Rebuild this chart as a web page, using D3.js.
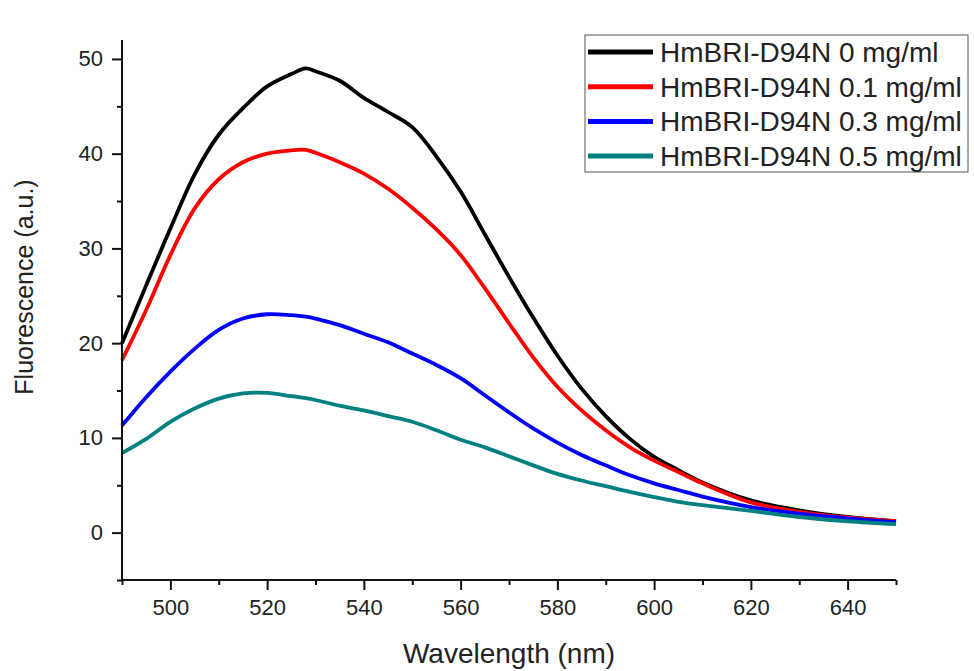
<!DOCTYPE html>
<html>
<head>
<meta charset="utf-8">
<script src="https://cdn.jsdelivr.net/npm/d3@7"></script>
<style>
  body { margin: 0; background: #fff; }
  text { font-family: Arial, "Liberation Sans", sans-serif; fill: #222; }
</style>
</head>
<body>
<div id="vis"></div>
<script>
const width = 974;
const height = 671;

// wavelength (nm) sample points
const wavelengths = [490, 495, 500, 505, 510, 515, 520, 525, 528, 530, 535, 540, 545, 550, 555, 560, 565, 570, 575, 580, 585, 590, 595, 600, 605, 610, 620, 630, 640, 650];

// fluorescence (a.u.)
const conc0 = [20.0, 26.1, 32.1, 37.8, 42.0, 44.8, 47.1, 48.4, 49.0, 48.7, 47.7, 45.9, 44.4, 42.8, 39.7, 36.0, 31.5, 27.0, 22.7, 18.7, 15.2, 12.3, 9.9, 8.0, 6.6, 5.3, 3.4, 2.35, 1.65, 1.2];
const conc01 = [18.2, 23.5, 29.3, 34.2, 37.3, 39.1, 40.0, 40.35, 40.4, 40.1, 39.1, 37.9, 36.3, 34.3, 32.0, 29.3, 25.8, 22.1, 18.5, 15.4, 12.9, 10.8, 9.0, 7.6, 6.4, 5.2, 3.2, 2.2, 1.6, 1.2];
const conc03 = [11.3, 14.3, 17.0, 19.4, 21.4, 22.6, 23.05, 22.95, 22.8, 22.6, 21.9, 21.0, 20.1, 18.9, 17.7, 16.3, 14.5, 12.7, 11.0, 9.5, 8.2, 7.1, 6.05, 5.2, 4.5, 3.8, 2.7, 2.0, 1.5, 1.1];
const conc05 = [8.4, 9.9, 11.7, 13.1, 14.15, 14.7, 14.75, 14.4, 14.2, 14.0, 13.4, 12.9, 12.3, 11.7, 10.8, 9.8, 9.0, 8.05, 7.1, 6.2, 5.5, 4.9, 4.3, 3.75, 3.25, 2.9, 2.3, 1.65, 1.2, 0.9];

const seriesNames = ['HmBRI-D94N 0 mg/ml', 'HmBRI-D94N 0.1 mg/ml', 'HmBRI-D94N 0.3 mg/ml', 'HmBRI-D94N 0.5 mg/ml'];
const seriesValues = [conc0, conc01, conc03, conc05];
const seriesColors = ['#000000', '#ff0000', '#0000ff', '#008080'];

const xMajor = [500, 520, 540, 560, 580, 600, 620, 640];
const xMinor = [490, 510, 530, 550, 570, 590, 610, 630, 650];
const yMajor = [0, 10, 20, 30, 40, 50];
const yMinor = [-5, 5, 15, 25, 35, 45];

const margin = { left: 122, right: 78, top: 40, bottom: 91 };

const x = d3.scaleLinear()
  .domain([490, 650])
  .range([margin.left, width - margin.right]);
const y = d3.scaleLinear()
  .domain([-5, 52])
  .range([height - margin.bottom, margin.top]);

const svg = d3.select('#vis').append('svg')
  .attr('width', width)
  .attr('height', height);

// curves
const line = d3.line()
  .x(d => x(d[0]))
  .y(d => y(d[1]))
  .curve(d3.curveCatmullRom.alpha(0.5));

seriesValues.forEach((vals, i) => {
  svg.append('path')
    .datum(wavelengths.map((w, j) => [w, vals[j]]))
    .attr('fill', 'none')
    .attr('stroke', seriesColors[i])
    .attr('stroke-width', 3.8)
    .attr('stroke-linejoin', 'round')
    .attr('d', line);
});

// axes
const xAxis = svg.append('g')
  .attr('transform', `translate(0,${height - margin.bottom})`)
  .call(d3.axisBottom(x).tickValues(xMajor).tickSize(10).tickPadding(9).tickFormat(d3.format('d')));
svg.append('g')
  .attr('transform', `translate(0,${height - margin.bottom})`)
  .call(d3.axisBottom(x).tickValues(xMinor).tickSize(5).tickFormat(''))
  .select('.domain').remove();

const yAxis = svg.append('g')
  .attr('transform', `translate(${margin.left},0)`)
  .call(d3.axisLeft(y).tickValues(yMajor).tickSize(10).tickPadding(9).tickFormat(d3.format('d')));
svg.append('g')
  .attr('transform', `translate(${margin.left},0)`)
  .call(d3.axisLeft(y).tickValues(yMinor).tickSize(5).tickFormat(''))
  .select('.domain').remove();

svg.selectAll('.domain')
  .attr('stroke', '#111')
  .attr('stroke-width', 2);
svg.selectAll('.tick line')
  .attr('stroke', '#111')
  .attr('stroke-width', 2);
svg.selectAll('.tick text')
  .style('font-size', '22px')
  .style('font-family', 'Arial, "Liberation Sans", sans-serif')
  .attr('fill', '#222');
xAxis.selectAll('.domain').attr('d', `M${margin.left},0H${width - margin.right}`);
yAxis.selectAll('.domain').attr('d', `M0,${height - margin.bottom}V${margin.top}`);

// axis titles
svg.append('text')
  .attr('x', (margin.left + width - margin.right) / 2)
  .attr('y', 663)
  .attr('text-anchor', 'middle')
  .style('font-size', '28px')
  .text('Wavelength (nm)');

svg.append('text')
  .attr('transform', `translate(33,${287}) rotate(-90)`)
  .attr('text-anchor', 'middle')
  .style('font-size', '25px')
  .text('Fluorescence (a.u.)');

// legend
const legend = svg.append('g').attr('transform', 'translate(585,35)');
legend.append('rect')
  .attr('width', 383)
  .attr('height', 137)
  .attr('fill', '#fff')
  .attr('stroke', '#555')
  .attr('stroke-width', 1);
seriesNames.forEach((name, i) => {
  const ly = 17 + i * 34.7;
  legend.append('line')
    .attr('x1', 3)
    .attr('x2', 68)
    .attr('y1', ly)
    .attr('y2', ly)
    .attr('stroke', seriesColors[i])
    .attr('stroke-width', 5);
  legend.append('text')
    .attr('x', 75)
    .attr('y', ly)
    .attr('dy', '0.35em')
    .style('font-size', '28px')
    .attr('fill', '#111')
    .text(name);
});
</script>
</body>
</html>
